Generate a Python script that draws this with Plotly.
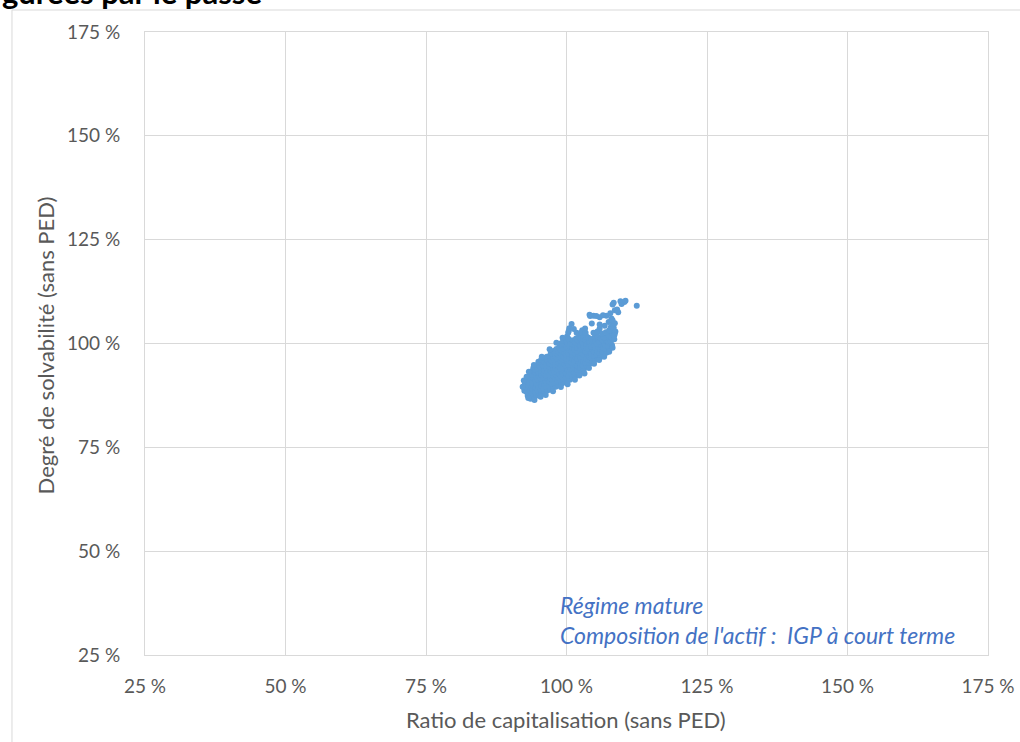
import plotly.graph_objects as go

# Ratio de capitalisation (x) et degré de solvabilité (y), en %, par scénario simulé
ratio_capitalisation = [
    92.5, 92.3, 92.6,
    93.1, 92.9, 93.0, 93.2, 92.9, 93.1,
    93.6, 93.4, 93.5, 93.7, 93.4, 93.6, 93.5,
    94.1, 93.9, 94.0, 94.2, 93.9, 94.1, 94.0, 93.9, 94.1,
    94.6, 94.4, 94.5, 94.7, 94.4, 94.6, 94.5, 94.4, 94.6,
    95.1, 94.9, 95.0, 95.2, 94.9, 95.1, 95.0, 94.9, 95.1, 95.0,
    95.6, 95.4, 95.5, 95.7, 95.4, 95.6, 95.5, 95.4, 95.6, 95.5,
    96.1, 95.9, 96.0, 96.2, 95.9, 96.1, 96.0, 95.9, 96.1, 96.0,
    96.6, 96.4, 96.5, 96.7, 96.4, 96.6, 96.5, 96.4, 96.6, 96.5,
    97.1, 96.9, 97.0, 97.2, 96.9, 97.1, 97.0, 96.9, 97.1, 97.0, 97.2,
    97.6, 97.4, 97.5, 97.7, 97.4, 97.6, 97.5, 97.4, 97.6, 97.5, 97.7,
    98.1, 97.9, 98.0, 98.2, 97.9, 98.1, 98.0, 97.9, 98.1, 98.0, 98.2,
    98.6, 98.4, 98.5, 98.7, 98.4, 98.6, 98.5, 98.4, 98.6, 98.5, 98.7,
    99.1, 98.9, 99.0, 99.2, 98.9, 99.1, 99.0, 98.9, 99.1, 99.0, 99.2, 98.9,
    99.6, 99.4, 99.5, 99.7, 99.4, 99.6, 99.5, 99.4, 99.6, 99.5, 99.7, 99.4,
    100.1, 99.9, 100.0, 100.2, 99.9, 100.1, 100.0, 99.9, 100.1, 100.0, 100.2, 99.9, 100.1, 100.3,
    100.6, 100.4, 100.5, 100.7, 100.4, 100.6, 100.5, 100.4, 100.6, 100.5, 100.7, 100.4, 100.5,
    101.1, 100.9, 101.0, 101.2, 100.9, 101.1, 101.0, 100.9, 101.1, 101.0, 101.2, 100.9,
    101.6, 101.4, 101.5, 101.7, 101.4, 101.6, 101.5, 101.4, 101.6, 101.5, 101.7,
    102.1, 101.9, 102.0, 102.2, 101.9, 102.1, 102.0, 101.9, 102.1, 102.0, 102.2,
    102.6, 102.4, 102.5, 102.7, 102.4, 102.6, 102.5, 102.4, 102.6, 102.5,
    103.1, 102.9, 103.0, 103.2, 102.9, 103.1, 103.0, 102.9, 103.1, 103.0, 102.8,
    103.6, 103.4, 103.5, 103.7, 103.4, 103.6, 103.5, 103.4, 103.6, 103.3,
    104.1, 103.9, 104.0, 104.2, 103.9, 104.1, 104.0, 103.9, 104.2,
    104.6, 104.4, 104.5, 104.7, 104.4, 104.6, 104.5, 104.5, 104.8,
    105.1, 104.9, 105.0, 105.2, 104.9, 105.1, 105.0,
    105.6, 105.4, 105.5, 105.7, 105.4, 105.6, 105.5,
    106.1, 105.9, 106.0, 106.2, 105.9, 106.1, 105.9, 105.9,
    106.6, 106.4, 106.5, 106.7, 106.4, 106.6,
    107.1, 106.9, 107.0, 107.2, 106.9, 107.1,
    107.6, 107.4, 107.5, 107.7, 107.4,
    108.1, 107.9, 108.0, 108.2, 107.9, 108.0,
    108.5, 108.6, 108.3, 108.6, 108.2,
    109.2, 109.8, 110.3, 112.5,
    # scénarios en bordure du nuage
    104.8, 105.5, 106.3, 107.0, 107.6, 107.9, 108.3, 107.5, 106.8, 105.9,
    108.4, 108.6, 108.2, 108.7, 108.5,
    106.5, 105.3, 104.1, 107.8, 109.0, 108.4, 109.6, 110.5,
    95.6, 97.0, 98.2, 99.3, 100.4, 101.3, 101.8, 102.7, 103.4,
    93.2, 94.3, 95.4, 96.3, 97.6, 99.0, 100.2, 101.5, 102.3, 103.2,
    104.0, 104.9, 105.8, 106.7, 107.6, 108.2, 92.2, 92.4, 92.9,
    93.3, 94.2,
]

degre_solvabilite = [
    88.6, 89.5, 90.3,
    87.4, 88.3, 89.2, 90.1, 91.0, 91.6,
    86.7, 87.8, 88.7, 89.6, 90.5, 91.4, 92.3,
    87.1, 88.0, 88.9, 89.8, 90.7, 91.6, 92.5, 93.4, 94.1,
    87.4, 88.4, 89.3, 90.2, 91.1, 92.0, 92.9, 93.8, 94.7,
    87.6, 88.6, 89.5, 90.4, 91.3, 92.2, 93.1, 94.0, 94.9, 95.6,
    88.0, 88.9, 89.8, 90.7, 91.6, 92.5, 93.4, 94.3, 95.2, 96.1,
    88.3, 89.2, 90.1, 91.0, 91.9, 92.8, 93.7, 94.6, 95.5, 96.5,
    88.7, 89.6, 90.5, 91.4, 92.3, 93.2, 94.1, 95.0, 95.9, 96.8,
    88.9, 89.8, 90.7, 91.6, 92.5, 93.4, 94.3, 95.2, 96.1, 97.0, 97.7,
    89.4, 90.3, 91.2, 92.1, 93.0, 93.9, 94.8, 95.7, 96.6, 97.5, 98.2,
    89.6, 90.5, 91.4, 92.3, 93.2, 94.1, 95.0, 95.9, 96.8, 97.7, 98.7,
    90.0, 90.9, 91.8, 92.7, 93.6, 94.5, 95.4, 96.3, 97.2, 98.1, 99.1,
    90.3, 91.2, 92.1, 93.0, 93.9, 94.8, 95.7, 96.6, 97.5, 98.4, 99.3, 100.0,
    90.6, 91.5, 92.4, 93.3, 94.2, 95.1, 96.0, 96.9, 97.8, 98.7, 99.6, 100.6,
    91.0, 91.9, 92.8, 93.7, 94.6, 95.5, 96.4, 97.3, 98.2, 99.1, 100.0, 100.9, 101.7, 102.6,
    91.3, 92.2, 93.1, 94.0, 94.9, 95.8, 96.7, 97.6, 98.5, 99.4, 100.3, 101.1, 103.7,
    91.8, 92.7, 93.6, 94.5, 95.4, 96.3, 97.2, 98.1, 99.0, 99.9, 100.8, 104.7,
    92.2, 93.1, 94.0, 94.9, 95.8, 96.7, 97.6, 98.5, 99.4, 100.3, 101.2,
    92.7, 93.6, 94.5, 95.4, 96.3, 97.2, 98.1, 99.0, 99.9, 100.8, 101.6,
    93.2, 94.1, 95.0, 95.9, 96.8, 97.7, 98.6, 99.5, 100.4, 101.2,
    93.8, 94.7, 95.6, 96.5, 97.4, 98.3, 99.2, 100.1, 101.0, 101.7, 103.2,
    94.5, 95.4, 96.3, 97.2, 98.1, 99.0, 99.9, 100.8, 101.6, 103.6,
    95.1, 96.0, 96.9, 97.8, 98.7, 99.6, 100.5, 101.4, 106.6,
    95.7, 96.6, 97.5, 98.4, 99.3, 100.2, 101.1, 104.8, 106.7,
    96.1, 97.0, 97.9, 98.8, 99.7, 100.6, 101.5,
    96.4, 97.3, 98.2, 99.1, 100.0, 100.9, 101.6,
    96.8, 97.7, 98.6, 99.5, 100.4, 101.2, 103.6, 106.3,
    97.2, 98.1, 99.0, 99.9, 100.8, 101.5,
    97.8, 98.7, 99.6, 100.5, 101.3, 106.7,
    98.5, 99.4, 100.3, 101.2, 102.0,
    99.6, 100.5, 101.4, 102.3, 103.1, 106.0,
    101.0, 102.4, 104.8, 108.0, 109.4,
    107.5, 109.5, 110.0, 109.1,
    # scénarios en bordure du nuage
    102.6, 102.9, 102.4, 102.7, 103.2, 104.0, 104.6, 105.2, 104.3, 104.6,
    103.8, 104.9, 105.6, 102.9, 101.9,
    106.8, 106.6, 106.9, 107.3, 108.2, 109.8, 110.2, 110.3,
    96.8, 98.6, 100.2, 101.4, 103.0, 103.5, 102.6, 102.7, 102.6,
    86.9, 86.4, 87.2, 87.6, 88.5, 89.5, 90.2, 91.3, 92.3, 92.8,
    94.1, 95.1, 96.0, 96.8, 98.0, 99.0, 89.6, 91.1, 92.0,
    93.2, 94.8,
]

tick_values = [25, 50, 75, 100, 125, 150, 175]
tick_labels = ["25 %", "50 %", "75 %", "100 %", "125 %", "150 %", "175 %"]

GRID = "#D9D9D9"
TEXT = "#595959"
FONT = "Lato"

fig = go.Figure()
fig.add_trace(go.Scatter(
    x=ratio_capitalisation,
    y=degre_solvabilite,
    mode="markers",
    marker=dict(size=6, color="#5B9BD5", line=dict(width=0)),
    showlegend=False,
    hoverinfo="x+y",
))

axis_common = dict(
    range=[25, 175],
    tickvals=tick_values,
    ticktext=tick_labels,
    showgrid=True,
    gridcolor=GRID,
    gridwidth=1,
    showline=True,
    mirror=True,
    linecolor=GRID,
    linewidth=1,
    zeroline=False,
    ticks="",
    automargin=False,
    tickfont=dict(family=FONT, size=19, color=TEXT),
)

fig.update_xaxes(**axis_common, ticklabelstandoff=14)
fig.update_yaxes(**axis_common, ticklabelstandoff=20)

fig.update_layout(
    width=1020,
    height=742,
    margin=dict(l=145, r=32, t=32, b=87, pad=0, autoexpand=False),
    paper_bgcolor="white",
    plot_bgcolor="white",
    font=dict(family=FONT, color=TEXT),
    annotations=[
        dict(
            text="Ratio de capitalisation (sans PED)",
            xref="paper", yref="paper", x=0.4994, y=-0.1043,
            xanchor="center", yanchor="middle", showarrow=False,
            font=dict(family=FONT, size=22, color=TEXT),
        ),
        dict(
            text="Degré de solvabilité (sans PED)",
            xref="paper", yref="paper", x=-0.1186, y=0.497,
            xanchor="center", yanchor="middle", showarrow=False, textangle=-90,
            font=dict(family=FONT, size=22, color=TEXT),
        ),
        dict(
            text="Régime mature<br>Composition de l'actif :\u00a0 IGP à court terme",
            xref="paper", yref="paper", x=0.4899, y=0.0562,
            xanchor="left", yanchor="middle", align="left", showarrow=False,
            font=dict(family=FONT, size=23, color="#4472C4", style="italic"),
        ),
        dict(
            text="<b>gurées par le passé</b>",
            xref="paper", yref="paper", x=-0.172, y=1.0305,
            xanchor="left", yanchor="bottom", showarrow=False,
            font=dict(family=FONT, size=31, color="black"),
        ),
    ],
    shapes=[
        dict(
            type="rect", xref="paper", yref="paper",
            x0=-0.1578, x1=1.06, y0=-0.17, y1=1.0353,
            line=dict(color=GRID, width=1), fillcolor="rgba(0,0,0,0)",
            layer="below",
        ),
    ],
)

fig.write_html("out.html")
